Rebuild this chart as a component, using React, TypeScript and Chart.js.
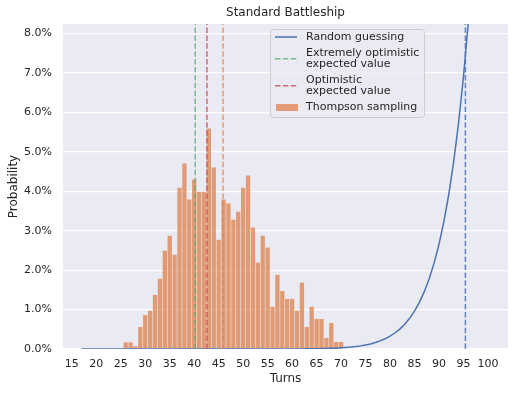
import React, { useEffect, useRef } from "react";
import { Chart, registerables } from "chart.js";
Chart.register(...registerables);

const chartTitle = "Standard Battleship";
const xAxisLabel = "Turns";
const yAxisLabel = "Probability";

const xTickValues = [15, 20, 25, 30, 35, 40, 45, 50, 55, 60, 65, 70, 75, 80, 85, 90, 95, 100];
const yTickValues = [0, 1, 2, 3, 4, 5, 6, 7, 8];

// Thompson sampling histogram (percent per turn)
const thompsonTurns = [
  26, 27, 28, 29, 30, 31, 32, 33, 34, 35, 36, 37, 38, 39, 40, 41, 42, 43, 44, 45, 46, 47, 48,
  49, 50, 51, 52, 53, 54, 55, 56, 57, 58, 59, 60, 61, 62, 63, 64, 65, 66, 67, 68, 69, 70,
];
const thompsonProb = [
  0.17, 0.17, 0.07, 0.56, 0.86, 0.97, 1.37, 1.78, 2.49, 2.87, 2.39, 4.09, 4.7, 3.79, 4.3, 3.99,
  3.99, 5.59, 4.6, 2.77, 3.79, 3.69, 3.28, 3.48, 4.09, 4.4, 3.08, 2.19, 2.87, 2.57, 1.07, 1.88,
  1.47, 1.27, 1.27, 0.97, 1.68, 0.56, 1.07, 0.76, 0.76, 0.28, 0.66, 0.18, 0.18,
];

// Random guessing curve (percent per turn)
const randomTurns = [
  17, 18, 19, 20, 21, 22, 23, 24, 25, 26, 27, 28, 29, 30, 31, 32, 33, 34, 35, 36, 37, 38, 39, 40,
  41, 42, 43, 44, 45, 46, 47, 48, 49, 50, 51, 52, 53, 54, 55, 56, 57, 58, 59, 60, 61, 62, 63, 64,
  65, 66, 67, 68, 69, 70, 71, 72, 73, 74, 75, 76, 77, 78, 79, 80, 81, 82, 83, 84, 85, 86, 87, 88,
  89, 90, 91, 92, 93, 94, 95, 96, 97, 98, 99, 100,
];
const randomProb = [
  0, 0, 0, 0, 0, 0, 0, 0, 0, 0,
  0, 0, 0, 0, 0, 0, 0, 0, 0, 0,
  0, 0, 0, 0, 0, 0, 0, 0, 0, 0,
  0, 0, 0, 0, 0, 0, 0, 0, 0, 0,
  0, 0, 0,
  0.0017, 0.0023, 0.0031, 0.0041, 0.0055, 0.0074, 0.0098, 0.0129, 0.0169, 0.0221, 0.0288,
  0.0373, 0.0482, 0.0619, 0.0793, 0.1012, 0.1286, 0.1629, 0.2056, 0.2586, 0.3243, 0.4054,
  0.5052, 0.6277, 0.7776, 0.9606, 1.183, 1.454, 1.781, 2.177, 2.654, 3.228, 3.917, 4.742,
  5.727, 6.901, 8.299, 9.959, 11.926, 14.253, 17.0,
];

// Vertical reference lines (turns)
const extremelyOptimisticValue = 40.2;
const optimisticValue = 42.6;
const thompsonMeanValue = 45.9;
const randomMeanValue = 95.4;

const xMin = 13.2;
const xMax = 104.1;
const yMin = 0;
const yMax = 8.24;

const FONT = '"DejaVu Sans", sans-serif';
const TEXT = "#262626";
const BLUE = "#4c72b0";
const ORANGE = "#dd8452";
const GREEN = "#55a868";
const RED = "#c44e52";

function rgba(hex: string, a: number) {
  const n = parseInt(hex.slice(1), 16);
  return `rgba(${(n >> 16) & 255},${(n >> 8) & 255},${n & 255},${a})`;
}

const decorPlugin = {
  id: "decor",
  beforeDraw(chart: any) {
    const { ctx, chartArea: a } = chart;
    ctx.save();
    ctx.fillStyle = "#ffffff";
    ctx.fillRect(0, 0, chart.width, chart.height);
    ctx.fillStyle = "#eaeaf2";
    ctx.fillRect(a.left, a.top, a.right - a.left, a.bottom - a.top);
    ctx.restore();
  },
  afterDraw(chart: any) {
    const { ctx, chartArea: a } = chart;
    ctx.save();
    ctx.fillStyle = TEXT;
    ctx.textAlign = "center";
    ctx.textBaseline = "middle";
    ctx.font = `12px ${FONT}`;
    const cx = (a.left + a.right) / 2;
    ctx.fillText(chartTitle, cx, 13);
    ctx.fillText(xAxisLabel, cx, 379);
    ctx.save();
    ctx.translate(13.5, (a.top + a.bottom) / 2);
    ctx.rotate(-Math.PI / 2);
    ctx.fillText(yAxisLabel, 0, 0);
    ctx.restore();

    // Legend
    const bx = 270.5, by = 29.5, bw = 154, bh = 88, r = 3;
    ctx.beginPath();
    ctx.moveTo(bx + r, by);
    ctx.lineTo(bx + bw - r, by);
    ctx.arcTo(bx + bw, by, bx + bw, by + r, r);
    ctx.lineTo(bx + bw, by + bh - r);
    ctx.arcTo(bx + bw, by + bh, bx + bw - r, by + bh, r);
    ctx.lineTo(bx + r, by + bh);
    ctx.arcTo(bx, by + bh, bx, by + bh - r, r);
    ctx.lineTo(bx, by + r);
    ctx.arcTo(bx, by, bx + r, by, r);
    ctx.closePath();
    ctx.fillStyle = "rgba(234,234,242,0.8)";
    ctx.fill();
    ctx.strokeStyle = "#cccccc";
    ctx.lineWidth = 1;
    ctx.stroke();

    const hx0 = 275, hx1 = 297, tx = 306;
    ctx.font = `11px ${FONT}`;
    ctx.textAlign = "left";
    ctx.textBaseline = "middle";
    ctx.lineWidth = 1.5;

    const items = [
      { lines: ["Random guessing"], color: BLUE, dash: [] as number[], alpha: 1, y: 37, patch: false },
      { lines: ["Extremely optimistic", "expected value"], color: GREEN, dash: [5.5, 2.4], alpha: 0.75, y: 58.8, patch: false },
      { lines: ["Optimistic", "expected value"], color: RED, dash: [5.5, 2.4], alpha: 0.8, y: 85.7, patch: false },
      { lines: ["Thompson sampling"], color: ORANGE, dash: [] as number[], alpha: 0.78, y: 107.5, patch: true },
    ];
    for (const it of items) {
      if (it.patch) {
        ctx.fillStyle = rgba(it.color, it.alpha);
        ctx.fillRect(hx0 + 1, it.y - 3.5, hx1 - hx0, 7);
      } else {
        ctx.strokeStyle = rgba(it.color, it.alpha);
        ctx.setLineDash(it.dash);
        ctx.beginPath();
        ctx.moveTo(hx0, it.y);
        ctx.lineTo(hx1, it.y);
        ctx.stroke();
        ctx.setLineDash([]);
      }
      ctx.fillStyle = TEXT;
      const n = it.lines.length;
      it.lines.forEach((t, i) => {
        ctx.fillText(t, tx, it.y + (i - (n - 1) / 2) * 10.8);
      });
    }
    ctx.restore();
  },
};

function vline(x: number, color: string, alpha: number) {
  return {
    type: "line" as const,
    data: [
      { x, y: yMin },
      { x, y: yMax },
    ],
    borderColor: rgba(color, alpha),
    borderWidth: 1.5,
    borderDash: [5.5, 2.4],
    pointRadius: 0,
    order: 1,
  };
}

export default function App() {
  const ref = useRef<HTMLCanvasElement | null>(null);
  useEffect(() => {
    if (!ref.current) return;
    Chart.defaults.font.family = FONT;
    const chart = new Chart(ref.current, {
      type: "bar",
      data: {
        datasets: [
          {
            type: "line",
            data: randomTurns.map((t, i) => ({ x: t, y: randomProb[i] })),
            borderColor: BLUE,
            borderWidth: 1.5,
            pointRadius: 0,
            tension: 0,
            order: 2,
          } as any,
          vline(extremelyOptimisticValue, GREEN, 0.75),
          vline(optimisticValue, RED, 0.8),
          vline(thompsonMeanValue, ORANGE, 0.75),
          vline(randomMeanValue, BLUE, 0.85),
          {
            type: "bar",
            data: thompsonTurns.map((t, i) => ({ x: t, y: thompsonProb[i] })),
            backgroundColor: rgba(ORANGE, 0.78),
            borderWidth: 0,
            barPercentage: 0.88,
            categoryPercentage: 1,
            order: 10,
          } as any,
        ],
      },
      options: {
        responsive: false,
        animation: false,
        devicePixelRatio: 1,
        layout: { padding: { top: 24, right: 7, bottom: 0, left: 0 } },
        plugins: {
          legend: { display: false },
          title: { display: false },
          tooltip: { enabled: false },
        },
        scales: {
          x: {
            type: "linear",
            min: xMin,
            max: xMax,
            offset: false,
            grid: { display: false, offset: false },
            border: { display: false },
            ticks: {
              color: TEXT,
              font: { size: 11, family: FONT },
              padding: 1,
              maxRotation: 0,
              autoSkip: false,
              includeBounds: false,
            },
            afterBuildTicks: (scale: any) => {
              scale.ticks = xTickValues.map((v) => ({ value: v }));
            },
            afterFit: (scale: any) => {
              scale.height = 44;
            },
          },
          y: {
            type: "linear",
            min: yMin,
            max: yMax,
            grid: { color: "#ffffff", lineWidth: 1.2, drawTicks: false },
            border: { display: false },
            ticks: {
              color: TEXT,
              font: { size: 11, family: FONT },
              padding: 11,
              autoSkip: false,
              includeBounds: false,
              callback: (v: any) => Number(v).toFixed(1) + "%",
            },
            afterBuildTicks: (scale: any) => {
              scale.ticks = yTickValues.map((v) => ({ value: v }));
            },
            afterFit: (scale: any) => {
              scale.width = 63;
            },
          },
        },
      } as any,
      plugins: [decorPlugin],
    });
    return () => chart.destroy();
  }, []);
  return (
    <div style={{ position: "fixed", left: 0, top: 0, width: 515, height: 393 }}>
      <canvas ref={ref} width={515} height={393} style={{ width: 515, height: 393 }} />
    </div>
  );
}
